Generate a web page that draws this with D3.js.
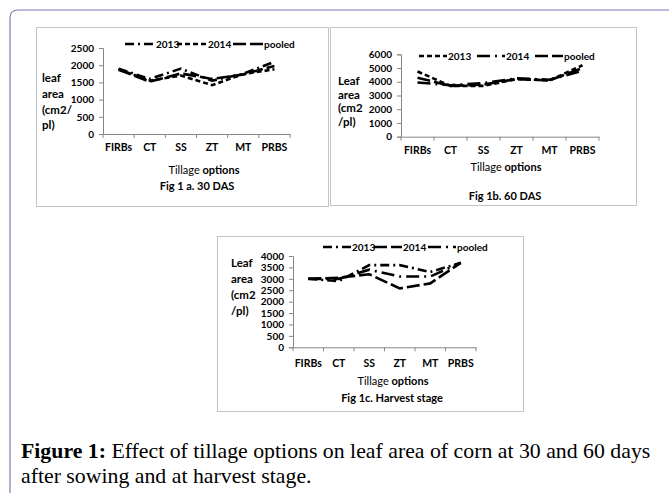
<!DOCTYPE html>
<html>
<head>
<meta charset="utf-8">
<script src="https://cdn.jsdelivr.net/npm/d3@7"></script>
<style>
  body { margin: 0; background: #fff; }
  svg text { font-family: Lato, "Liberation Sans", sans-serif; fill: #000; }
  .cap { font-family: "Liberation Serif", "DejaVu Serif", serif; }
</style>
</head>
<body>
<svg id="fig" width="669" height="493"></svg>
<script>
// tillage categories, shared by all three panels
const categories = ['FIRBs', 'CT', 'SS', 'ZT', 'MT', 'PRBS'];
const seriesNames = ['2013', '2014', 'pooled'];

// Fig 1a: 30 DAS
const das30_2013 = [1900, 1600, 1900, 1550, 1750, 2100];
const das30_2014 = [1880, 1550, 1700, 1420, 1740, 1880];
const das30_pooled = [1870, 1520, 1760, 1600, 1730, 1980];
const das30_ticks = [0, 500, 1000, 1500, 2000, 2500];

// Fig 1b: 60 DAS
const das60_2013 = [4750, 3700, 3700, 4200, 4100, 5200];
const das60_2014 = [3950, 3750, 3900, 4250, 4150, 4800];
const das60_pooled = [4300, 3700, 3800, 4200, 4100, 5000];
const das60_ticks = [0, 1000, 2000, 3000, 4000, 5000, 6000];

// Fig 1c: harvest
const harv_2013 = [3000, 2900, 3600, 3600, 3300, 3700];
const harv_2014 = [3000, 3050, 3200, 2580, 2800, 3700];
const harv_pooled = [3000, 3000, 3400, 3100, 3100, 3700];
const harv_ticks = [0, 500, 1000, 1500, 2000, 2500, 3000, 3500, 4000];

const dashes = {
  dashDot: '9,4,2,4',
  short: '5,3',
  long: '13,4',
  longDot: '13,5,2,5'
};

const svg = d3.select('#fig');
svg.append('rect').attr('width', 669).attr('height', 493).attr('fill', '#fff');

// outer page frame
svg.append('path')
  .attr('d', 'M10,493 L10,18 Q10,10 18,10 L669,10')
  .attr('fill', 'none')
  .attr('stroke', '#7d79b3')
  .attr('stroke-width', 1.2);

function drawPanel(cfg) {
  const g = svg.append('g');

  g.append('rect')
    .attr('x', cfg.box[0] + 0.5).attr('y', cfg.box[1] + 0.5)
    .attr('width', cfg.box[2] - cfg.box[0]).attr('height', cfg.box[3] - cfg.box[1])
    .attr('fill', '#fff').attr('stroke', '#c4c4c4').attr('stroke-width', 1);

  const x = d3.scaleBand().domain(categories).range([cfg.plot.x0, cfg.plot.x1]);
  const y = d3.scaleLinear().domain([0, d3.max(cfg.ticks)]).range([cfg.plot.y0, cfg.plot.y1]);

  // y axis
  const yAxis = g.append('g')
    .attr('transform', `translate(${cfg.plot.x0},0)`)
    .call(d3.axisLeft(y).tickValues(cfg.ticks).tickSize(4).tickPadding(5).tickFormat(d3.format('d')));
  yAxis.select('.domain').attr('stroke', '#868686');
  yAxis.selectAll('.tick line').attr('stroke', '#868686');
  yAxis.selectAll('text').attr('font-size', 10).attr('font-weight', 'bold')
    .attr('font-family', 'Lato, sans-serif').attr('fill', '#000');

  // x axis: ticks sit on band edges
  const xAxis = g.append('g')
    .attr('transform', `translate(0,${cfg.plot.y0})`)
    .call(d3.axisBottom(x).tickSize(0).tickPadding(cfg.xPad));
  xAxis.select('.domain').attr('stroke', '#868686');
  xAxis.selectAll('text').attr('font-size', 10.5).attr('font-weight', 'bold')
    .attr('font-family', 'Lato, sans-serif').attr('fill', '#000');
  const edges = categories.map(c => x(c)).concat([x.range()[1]]);
  g.selectAll('.edge').data(edges).enter().append('line')
    .attr('x1', d => d).attr('x2', d => d)
    .attr('y1', cfg.plot.y0).attr('y2', cfg.plot.y0 + 4)
    .attr('stroke', '#868686');

  // series lines
  const line = d3.line()
    .x((d, i) => x(categories[i]) + x.bandwidth() / 2)
    .y(d => y(d));
  cfg.series.forEach(s => {
    g.append('path')
      .datum(s.values)
      .attr('d', line)
      .attr('fill', 'none')
      .attr('stroke', '#000')
      .attr('stroke-width', 2.6)
      .attr('stroke-dasharray', dashes[s.dash]);
  });

  // legend
  cfg.series.forEach((s, i) => {
    const lx = cfg.legend.items[i];
    g.append('line')
      .attr('x1', lx).attr('x2', lx + cfg.legend.sample)
      .attr('y1', cfg.legend.y).attr('y2', cfg.legend.y)
      .attr('stroke', '#000').attr('stroke-width', 2.6)
      .attr('stroke-dasharray', dashes[s.dash]);
    g.append('text')
      .attr('x', lx + cfg.legend.sample + 1).attr('y', cfg.legend.y + 3.5)
      .attr('font-size', 10).attr('font-weight', 'bold')
      .text(seriesNames[i]);
  });

  // y title
  cfg.yTitle.lines.forEach((t, i) => {
    g.append('text')
      .attr('x', cfg.yTitle.x).attr('y', cfg.yTitle.y[i])
      .attr('font-size', 11.5).attr('font-weight', 'bold')
      .text(t);
  });

  // x title
  const xt = g.append('text')
    .attr('x', cfg.xTitle[0]).attr('y', cfg.xTitle[1])
    .attr('text-anchor', 'middle').attr('font-size', 11);
  xt.append('tspan').text('Tillage ');
  xt.append('tspan').attr('font-weight', 'bold').text('options');

  g.append('text')
    .attr('x', cfg.figTitle[0]).attr('y', cfg.figTitle[1])
    .attr('text-anchor', 'middle').attr('font-size', 11).attr('font-weight', 'bold')
    .text(cfg.figTitle[2]);
}

drawPanel({
  box: [36, 27, 328, 206],
  plot: { x0: 103, x1: 290, y0: 134, y1: 48 },
  ticks: das30_ticks,
  xPad: 10,
  series: [
    { values: das30_2013, dash: 'dashDot' },
    { values: das30_2014, dash: 'short' },
    { values: das30_pooled, dash: 'long' }
  ],
  legend: { y: 44, sample: 30, items: [125, 177, 233] },
  yTitle: { x: 42, y: [82, 98, 114, 129], lines: ['leaf', 'area', '(cm2/', 'pl)'] },
  xTitle: [204, 174],
  figTitle: [197, 190, 'Fig 1 a. 30 DAS']
});

drawPanel({
  box: [330, 27, 636, 205],
  plot: { x0: 401, x1: 599, y0: 136.7, y1: 54.3 },
  ticks: das60_ticks,
  xPad: 10,
  series: [
    { values: das60_2013, dash: 'short' },
    { values: das60_2014, dash: 'longDot' },
    { values: das60_pooled, dash: 'long' }
  ],
  legend: { y: 56, sample: 28, items: [419, 477, 535] },
  yTitle: { x: 338, y: [85, 99, 112, 126], lines: ['Leaf', 'area', '(cm2', '/pl)'] },
  xTitle: [506, 171],
  figTitle: [505, 200, 'Fig 1b. 60 DAS']
});

drawPanel({
  box: [217, 236, 523, 411],
  plot: { x0: 293, x1: 476, y0: 347.3, y1: 256 },
  ticks: harv_ticks,
  xPad: 12,
  series: [
    { values: harv_2013, dash: 'dashDot' },
    { values: harv_2014, dash: 'long' },
    { values: harv_pooled, dash: 'longDot' }
  ],
  legend: { y: 247, sample: 28, items: [323, 374, 428] },
  yTitle: { x: 231, y: [267, 283, 299, 315], lines: ['Leaf', 'area', '(cm2', '/pl)'] },
  xTitle: [393, 385],
  figTitle: [392, 402, 'Fig 1c. Harvest stage']
});

// figure caption
const cap = svg.append('text').attr('class', 'cap')
  .attr('x', 21).attr('y', 458).attr('font-size', 21.8);
cap.append('tspan').attr('font-weight', 'bold').text('Figure 1:');
cap.append('tspan').text(' Effect of tillage options on leaf area of corn at 30 and 60 days');
svg.append('text').attr('class', 'cap')
  .attr('x', 21).attr('y', 483).attr('font-size', 21.8)
  .text('after sowing and at harvest stage.');
</script>
</body>
</html>
